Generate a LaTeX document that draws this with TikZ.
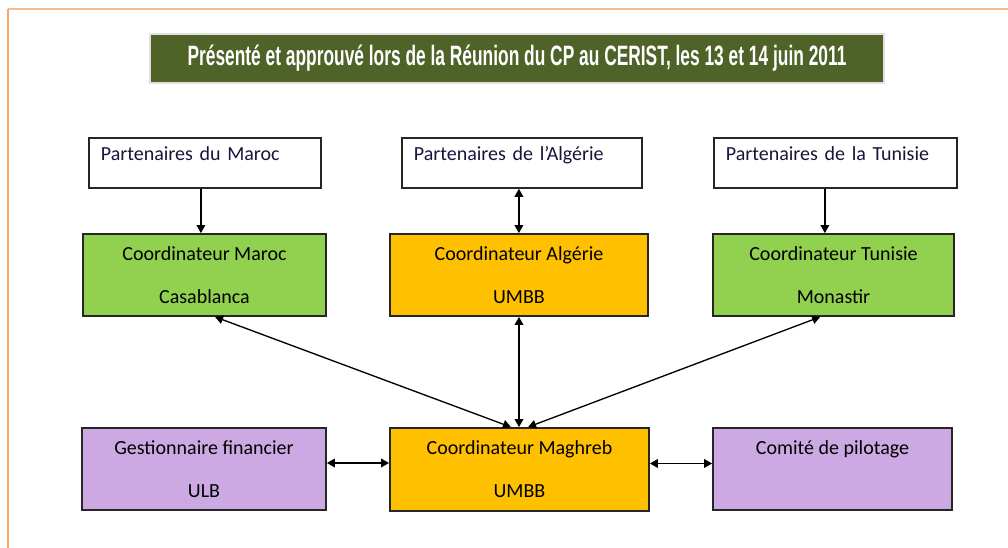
\documentclass[tikz,border=0pt]{standalone}
\usepackage{fontspec}
\setmainfont{Carlito}
\newfontfamily\titlefont[FakeStretch=0.62]{Liberation Sans}
\usetikzlibrary{arrows.meta,calc}
\definecolor{titlegreen}{HTML}{4F6228}
\definecolor{boxgreen}{HTML}{92D050}
\definecolor{boxorange}{HTML}{FFC000}
\definecolor{boxpurple}{HTML}{CCA9E2}
\definecolor{frameorange}{HTML}{F9A66B}
\definecolor{frametop}{HTML}{FAB98C}
\definecolor{ptext}{HTML}{16163A}
\begin{document}
\begin{tikzpicture}[x=0.75pt,y=-0.75pt,
  box/.style={draw=black!85, line width=1.35pt, rectangle, inner sep=0pt,
    font=\fontsize{15}{32.25}\selectfont, align=center},
  partner/.style={box, fill=white, align=left, anchor=north west,
    inner xsep=9pt, inner ysep=0pt, text height=17.25pt, text depth=20.25pt,
    text=ptext},
  green/.style={box, fill=boxgreen},
  orange/.style={box, fill=boxorange},
  purple/.style={box, fill=boxpurple},
  tip/.style={line width=1pt, {Triangle[length=6pt,width=6.5pt]}-{Triangle[length=6pt,width=6.5pt]}},
  onetip/.style={line width=1pt, -{Triangle[length=6pt,width=6.5pt]}}
]
\useasboundingbox (0,0) rectangle (1008,548);
% frame
\draw[frametop, line width=1.6pt] (8,9) -- (1010,9);
\draw[frameorange, line width=1.6pt] (8,9) -- (8,550);

% title
\node[fill=titlegreen, draw=black!12, line width=1.5pt, minimum width=734*0.75pt,
  minimum height=49*0.75pt, inner sep=0pt, text=white,
  font=\titlefont\bfseries\fontsize{21}{24}\selectfont] (title) at (517,58.5)
  {Présenté et approuvé lors de la Réunion du CP au CERIST, les 13 et 14 juin 2011};

% partners
\node[partner, text width=156pt] (pm) at (88,137) {Partenaires du Maroc};
\node[partner, text width=162pt] (pa) at (401,137) {Partenaires de l’Algérie};
\node[partner, text width=164.25pt] (pt) at (713,137) {Partenaires de la Tunisie};

% coordinators
\node[green, minimum width=243*0.75pt, minimum height=82*0.75pt] (cm) at (204.5,275)
  {Coordinateur Maroc\\Casablanca};
\node[orange, minimum width=258*0.75pt, minimum height=82*0.75pt] (ca) at (519,275)
  {Coordinateur Algérie\\UMBB};
\node[green, minimum width=241*0.75pt, minimum height=82*0.75pt] (ct) at (833.5,275)
  {Coordinateur Tunisie\\Monastir};

% bottom row
\node[purple, minimum width=244*0.75pt, minimum height=82*0.75pt] (gf) at (204,469)
  {Gestionnaire financier\\ULB};
\node[orange, minimum width=259*0.75pt, minimum height=83*0.75pt] (mg) at (519.5,469.5)
  {Coordinateur Maghreb\\UMBB};
\node[purple, minimum width=239*0.75pt, minimum height=82*0.75pt] (cp) at (832.5,469)
  {Comité de pilotage\\\phantom{X}};

% connectors
\coordinate (pmx) at ([xshift=-3pt]pm.south);
\draw[onetip] (pmx) -- (pmx |- cm.north);
\coordinate (pax) at ([xshift=-2.25pt]pa.south);
\draw[tip] (pax) -- (pax |- ca.north);
\coordinate (ptx) at ([xshift=-7.9pt]pt.south);
\draw[onetip] (ptx) -- (ptx |- ct.north);

\coordinate (cma) at ([xshift=7.9pt]cm.south);
\coordinate (mga) at ([xshift=-6.4pt]mg.north);
\draw[tip] (cma) -- (mga);
\draw[tip] (ca.south) -- (ca.south |- mg.north);
\coordinate (cta) at ([xshift=-10pt]ct.south);
\coordinate (mgb) at ([xshift=6.4pt]mg.north);
\draw[tip] (cta) -- (mgb);

\coordinate (gfe) at ([yshift=4.5pt]gf.east);
\draw[tip] (gfe) -- (gfe -| mg.west);
\coordinate (mge) at ([yshift=4.5pt]mg.east);
\draw[tip] (mge) -- (mge -| cp.west);
\end{tikzpicture}
\end{document}
